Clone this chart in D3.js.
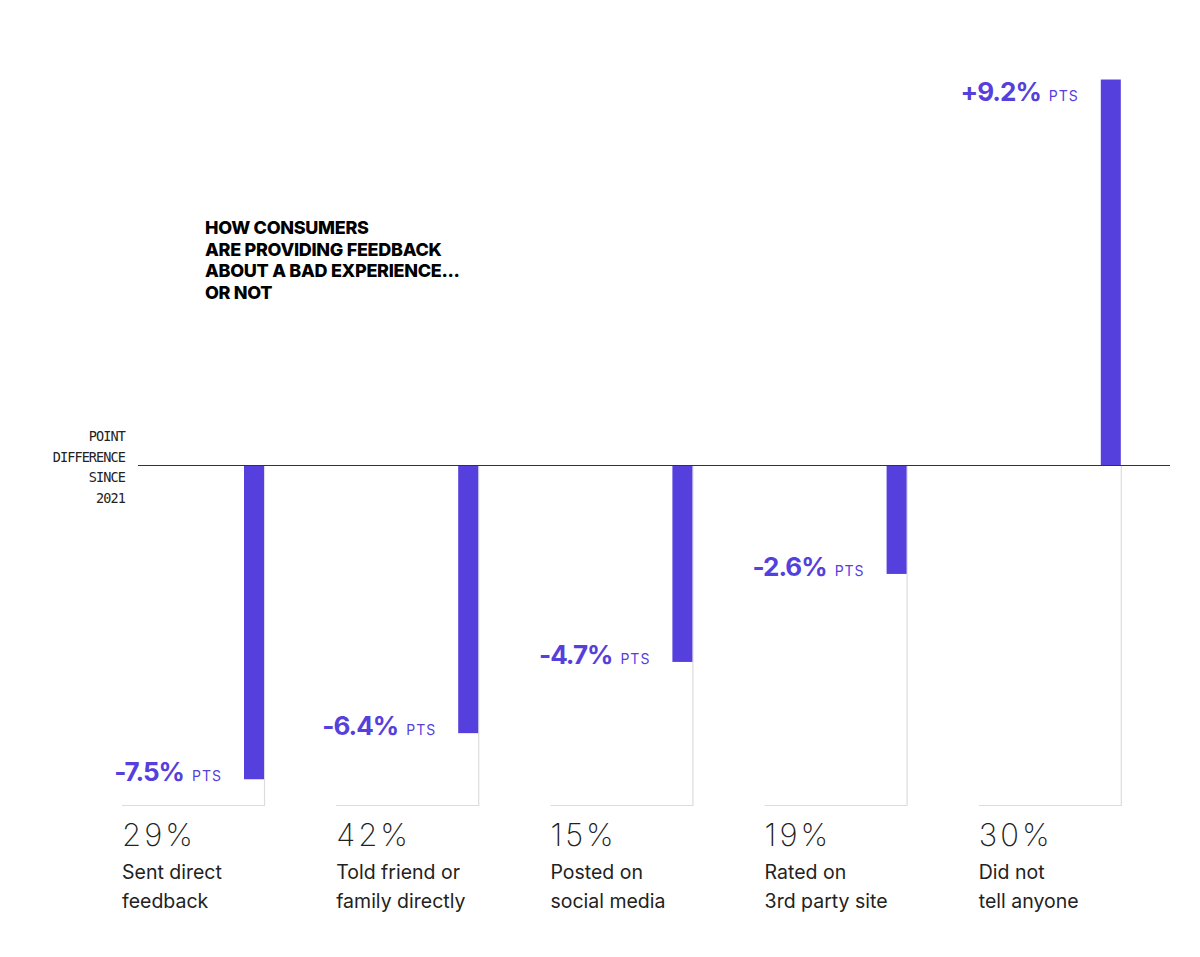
<!DOCTYPE html>
<html><head><meta charset="utf-8">
<script src="https://cdn.jsdelivr.net/npm/d3@7"></script>
<style>body{margin:0;background:#fff}svg{display:block}</style>
</head><body><svg id="c" width="1200" height="957"></svg>
<script>
const shares = ["29%", "42%", "15%", "19%", "30%"];
const labelLines = [["Sent direct","feedback"],["Told friend or","family directly"],["Posted on","social media"],["Rated on","3rd party site"],["Did not","tell anyone"]];
const changes = [-7.5, -6.4, -4.7, -2.6, 9.2];
const changeLabels = ["-7.5%", "-6.4%", "-4.7%", "-2.6%", "+9.2%"];
const titleLines = ["HOW CONSUMERS","ARE PROVIDING FEEDBACK","ABOUT A BAD EXPERIENCE...","OR NOT"];
const axisLabel = ["POINT","DIFFERENCE","SINCE","2021"];

const purple = "#5540DD";
const svg = d3.select("#c");
const idx = d3.range(changes.length);

const x = d3.scaleBand().domain(idx).range([122, 1193]);
const groupW = 142, barW = 20;
const y = d3.scaleLinear().domain([0, 10]).range([465, 46]);
const bottomY = 805.5;

// gray brackets
const g = svg.append("g");
idx.forEach(i => {
  const x0 = x(i), x1 = x0 + groupW + 0.5;
  g.append("path")
    .attr("d", `M${x0},${bottomY}H${x1}V${y(0)}`)
    .attr("fill","none").attr("stroke","#dcdcdc").attr("stroke-width",1.2);
});

// bars
svg.append("g").selectAll("rect").data(idx).join("rect")
  .attr("x", i => x(i) + groupW - barW)
  .attr("width", barW)
  .attr("y", i => Math.min(y(0), y(changes[i])))
  .attr("height", i => Math.abs(y(changes[i]) - y(0)))
  .attr("fill", purple);

// baseline
svg.append("line").attr("x1",138).attr("x2",1170).attr("y1",y(0)+0.5).attr("y2",y(0)+0.5)
  .attr("stroke","#333").attr("stroke-width",1);

// value labels
idx.forEach(i => {
  const v = changes[i];
  const by = v >= 0 ? y(v) + 21 : y(v) + 2;
  const t = svg.append("text")
    .attr("x", x(i) + groupW - barW - 22).attr("y", by)
    .attr("text-anchor","end").attr("fill", purple)
    .attr("font-family","Inter, 'Noto Sans', sans-serif");
  t.append("tspan").text(changeLabels[i]).attr("font-size",26).attr("font-weight",700).attr("letter-spacing",-1);
  t.append("tspan").text("PTS").attr("font-size",14).attr("font-weight",400).attr("dx",8).attr("letter-spacing",1);
});

// share labels
svg.append("g").selectAll("text").data(idx).join("text")
  .attr("x", i => x(i)).attr("y", 846)
  .attr("font-family","Inter, sans-serif").attr("font-size",31).attr("font-weight",200)
  .attr("fill","#222").attr("letter-spacing",3)
  .text(i => shares[i]);

// category labels
idx.forEach(i => {
  svg.append("text").attr("x", x(i)).attr("y", 879)
    .attr("font-family","Inter, 'Noto Sans', sans-serif").attr("font-size",19.5).attr("fill","#222")
    .selectAll("tspan").data(labelLines[i]).join("tspan")
    .attr("x", x(i)).attr("dy", (d,k) => k ? 29 : 0).text(d => d);
});

// title
svg.append("text").attr("y", 234)
  .attr("font-family","Inter, 'Liberation Sans', sans-serif").attr("font-size",18).attr("font-weight",800)
  .attr("fill","#000").attr("letter-spacing",-0.3)
  .selectAll("tspan").data(titleLines).join("tspan")
  .attr("x",205).attr("dy",(d,k)=>k?21.7:0).text(d=>d);

// axis label
svg.append("text").attr("y", 441)
  .attr("font-family","'DejaVu Sans Mono', monospace").attr("font-size",13.5)
  .attr("fill","#222").attr("text-anchor","end").attr("letter-spacing",-0.9)
  .selectAll("tspan").data(axisLabel).join("tspan")
  .attr("x",125).attr("dy",(d,k)=>k?20.5:0).text(d=>d);
</script></body></html>
